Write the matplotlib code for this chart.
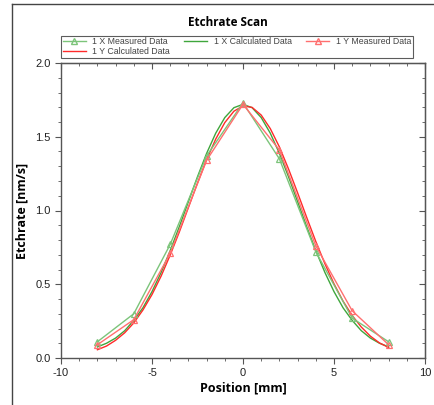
import numpy as np
import matplotlib.pyplot as plt
from matplotlib.lines import Line2D

# measured positions and values
pos_meas = [-8, -6, -4, -2, 0, 2, 4, 6, 8]
x_meas = [0.11, 0.30, 0.77, 1.37, 1.73, 1.35, 0.72, 0.27, 0.11]
y_meas = [0.09, 0.26, 0.71, 1.34, 1.72, 1.41, 0.76, 0.32, 0.09]

pos_calc = [-8.0, -7.5, -7.0, -6.5, -6.0, -5.5, -5.0, -4.5, -4.0, -3.5, -3.0,
            -2.5, -2.0, -1.5, -1.0, -0.5, 0.0, 0.5, 1.0, 1.5, 2.0, 2.5, 3.0,
            3.5, 4.0, 4.5, 5.0, 5.5, 6.0, 6.5, 7.0, 7.5, 8.0]
x_calc = [0.075, 0.10, 0.135, 0.185, 0.255, 0.34, 0.45, 0.58, 0.728, 0.89,
          1.06, 1.229, 1.387, 1.524, 1.63, 1.697, 1.72, 1.697, 1.63, 1.524,
          1.387, 1.229, 1.06, 0.89, 0.728, 0.58, 0.45, 0.34, 0.255, 0.185,
          0.135, 0.10, 0.075]
y_calc = [0.056, 0.081, 0.12, 0.171, 0.238, 0.325, 0.43, 0.555, 0.698, 0.854,
          1.02, 1.186, 1.344, 1.484, 1.596, 1.673, 1.709, 1.699, 1.647, 1.555,
          1.431, 1.282, 1.12, 0.953, 0.79, 0.639, 0.503, 0.385, 0.288, 0.21,
          0.148, 0.102, 0.072]

green_m = "#7cc47a"
green_c = "#3fa63c"
red_m = "#ff6f6f"
red_c = "#ff2a2a"

plt.rcParams["font.family"] = ["Liberation Sans", "DejaVu Sans"]
plt.rcParams["axes.unicode_minus"] = False

fig = plt.figure(figsize=(4.34, 4.05), dpi=100)
ax = fig.add_axes([61 / 434, 47 / 405, 364 / 434, 295 / 405])

ax.plot(pos_calc, x_calc, color=green_c, lw=1.0)
ax.plot(pos_calc, y_calc, color=red_c, lw=1.0)
ax.plot(pos_meas, x_meas, color=green_m, lw=1.0, marker="^", ms=5,
        mfc="none", mec=green_m, mew=0.9)
ax.plot(pos_meas, y_meas, color=red_m, lw=1.0, marker="^", ms=5,
        mfc="none", mec=red_m, mew=0.9)

ax.set_xlim(-10, 10)
ax.set_ylim(0, 2.0)
ax.set_xticks([-10, -5, 0, 5, 10])
ax.set_xticks(np.arange(-10, 11, 1), minor=True)
ax.set_yticks([0.0, 0.5, 1.0, 1.5, 2.0])
ax.set_yticks(np.arange(0, 2.01, 0.1), minor=True)
ax.set_yticklabels(["0.0", "0.5", "1.0", "1.5", "2.0"])

for s in ax.spines.values():
    s.set_color("#555555")
    s.set_linewidth(1.0)
ax.tick_params(axis="both", which="both", colors="#555555", labelcolor="#222222",
               labelsize=8, direction="out")
ax.tick_params(which="major", length=4)
ax.tick_params(which="minor", length=2.5)

# inward ticks on top and right spines
top = ax.secondary_xaxis("top")
top.set_xticks([-10, -5, 0, 5, 10])
top.set_xticks(np.arange(-10, 11, 1), minor=True)
top.tick_params(which="both", direction="in", colors="#555555", labeltop=False)
top.tick_params(which="major", length=4)
top.tick_params(which="minor", length=2.5)
right = ax.secondary_yaxis("right")
right.set_yticks([0.0, 0.5, 1.0, 1.5, 2.0])
right.set_yticks(np.arange(0, 2.01, 0.1), minor=True)
right.tick_params(which="both", direction="in", colors="#555555", labelright=False)
right.tick_params(which="major", length=4)
right.tick_params(which="minor", length=2.5)

ax.set_xlabel("Position [mm]", fontsize=9, fontweight="bold",
              family=["Open Sans", "DejaVu Sans"], labelpad=2)
ax.set_ylabel("Etchrate [nm/s]", fontsize=9, fontweight="bold",
              family=["Open Sans", "DejaVu Sans"], labelpad=5)
fig.text(228 / 434, 1 - 22 / 405, "Etchrate Scan", ha="center", va="center",
         fontsize=8.5, fontweight="bold", family=["Open Sans", "DejaVu Sans"])

# legend filled column-wise, ordered so rows read X meas, X calc, Y meas / Y calc
handles = [
    Line2D([], [], color=green_m, lw=1, marker="^", ms=4, mfc="none", mec=green_m),
    Line2D([], [], color=red_c, lw=1),
    Line2D([], [], color=green_c, lw=1),
    Line2D([], [], color=red_m, lw=1, marker="^", ms=4, mfc="none", mec=red_m),
]
labels = ["1 X Measured Data", "1 Y Calculated Data", "1 X Calculated Data",
          "1 Y Measured Data"]
leg = fig.legend(handles, labels, ncol=3, fontsize=6.3,
                 bbox_to_anchor=(61 / 434, 1 - 58 / 405, 352 / 434, 22 / 405),
                 loc="lower left", mode="expand", frameon=True, fancybox=False,
                 borderpad=0.2, handlelength=2.6, handletextpad=0.8,
                 labelspacing=0.1, columnspacing=1.0, borderaxespad=0)
leg.get_frame().set_edgecolor("#333333")
leg.get_frame().set_linewidth(0.8)
for t in leg.get_texts():
    t.set_color("#444444")

# outer frame of the panel
fig.add_artist(Line2D([12 / 434, 12 / 434], [0, 1 - 4 / 405],
                      transform=fig.transFigure, color="#444444", lw=1))
fig.add_artist(Line2D([12 / 434, 1], [1 - 4 / 405, 1 - 4 / 405],
                      transform=fig.transFigure, color="#444444", lw=1))

fig.savefig("out.png", dpi=100)
